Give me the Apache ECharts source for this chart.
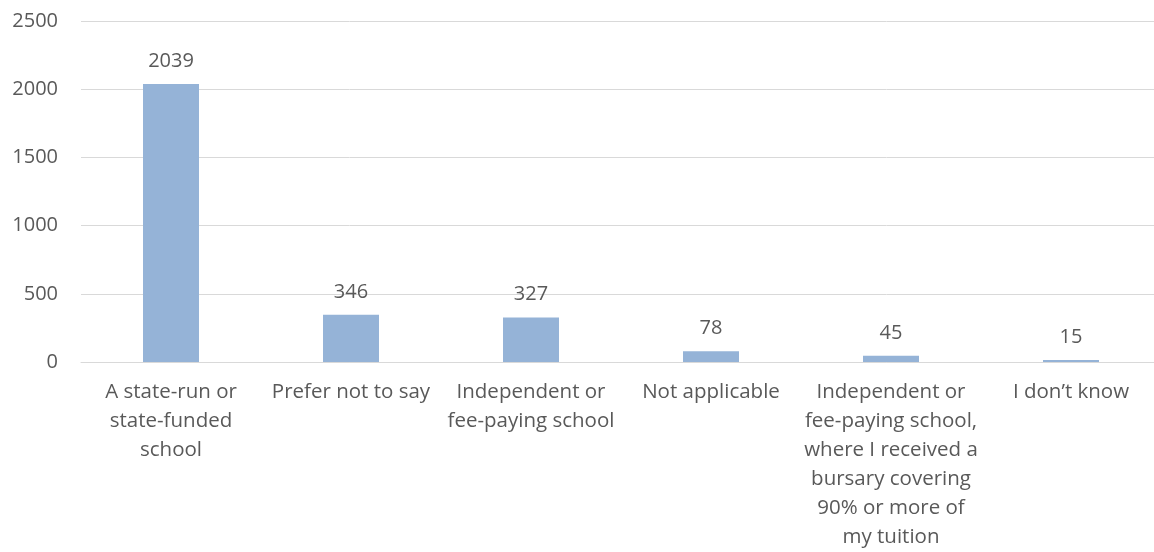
<!DOCTYPE html>
<html>
<head>
<meta charset="utf-8">
<script src="https://cdn.jsdelivr.net/npm/echarts@6/dist/echarts.min.js"></script>
<style>
  html, body { margin: 0; padding: 0; background: #fff; }
  #chart { width: 1154px; height: 552px; }
</style>
</head>
<body>
<div id="chart"></div>
<script>
// school type categories (line breaks as in the original)
var categories = [
  'A state-run or\nstate-funded\nschool',
  'Prefer not to say',
  'Independent or\nfee-paying school',
  'Not applicable',
  'Independent or\nfee-paying school,\nwhere I received a\nbursary covering\n90% or more of\nmy tuition',
  'I don\u2019t know'
]
var counts = [2039, 346, 327, 78, 45, 15]
var yTicks = { min: 0, max: 2500, interval: 500 }

var textColor = '#595959'
var font = "'Open Sans', 'Liberation Sans', sans-serif"

var chart = echarts.init(document.getElementById('chart'))
chart.setOption({
  animation: false,
  grid: {
    left: 81,
    width: 1080,
    top: 21,
    bottom: 190,
    containLabel: false,
    outerBoundsMode: 'none'
  },
  xAxis: {
    type: 'category',
    data: categories,
    axisLine: { lineStyle: { color: '#d9d9d9', width: 1 } },
    axisTick: { show: false },
    axisLabel: {
      color: textColor,
      fontFamily: font,
      fontSize: 20.5,
      lineHeight: 29,
      margin: 16,
      interval: 0
    }
  },
  yAxis: {
    type: 'value',
    min: yTicks.min,
    max: yTicks.max,
    interval: yTicks.interval,
    axisLine: { show: false },
    axisTick: { show: false },
    splitLine: { lineStyle: { color: '#d9d9d9', width: 1 } },
    axisLabel: {
      color: textColor,
      fontFamily: font,
      fontSize: 20,
      margin: 23,
      formatter: function (v) { return String(v) }
    }
  },
  series: [
    {
      type: 'bar',
      data: counts,
      barWidth: 56,
      itemStyle: { color: '#95b3d7' },
      label: {
        show: true,
        position: 'top',
        distance: 13,
        color: textColor,
        fontFamily: font,
        fontSize: 20
      }
    }
  ]
})
</script>
</body>
</html>
